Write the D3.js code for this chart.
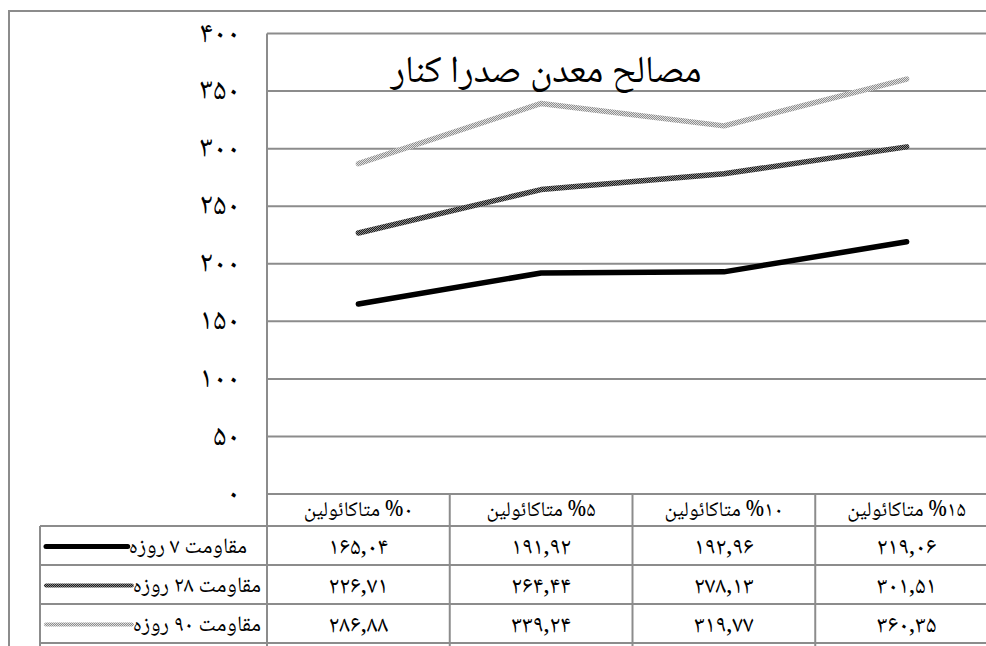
<!DOCTYPE html>
<html><head><meta charset="utf-8">
<script src="https://cdn.jsdelivr.net/npm/d3@7"></script>
<style>body{margin:0;background:#fff;overflow:hidden} svg{display:block}</style>
</head><body>
<svg id="c" width="986" height="646"></svg>
<script>
// ---- data ----
const chartTitle = "مصالح  معدن صدرا کنار";
const categoryWord = "متاکائولین";
const categoryPct = ["۰", "۵", "۱۰", "۱۵"];
const seriesNames = ["مقاومت ۷ روزه", "مقاومت ۲۸ روزه", "مقاومت ۹۰ روزه"];
const strength7 = [165.04, 191.92, 192.96, 219.06];
const strength28 = [226.71, 264.44, 278.13, 301.51];
const strength90 = [286.88, 339.24, 319.77, 360.35];
const yTicks = [0, 50, 100, 150, 200, 250, 300, 350, 400];

const series = [strength7, strength28, strength90];
const FONT = "'Noto Naskh Arabic','Noto Sans Arabic','DejaVu Sans',sans-serif";
const fa = s => String(s).replace(/[0-9]/g, d => "۰۱۲۳۴۵۶۷۸۹"[+d]);
const fmt = v => fa(v.toFixed(2).replace(".", ","));

const svg = d3.select("#c");
const defs = svg.append("defs");
function pat(id, a, b) {
  const p = defs.append("pattern").attr("id", id).attr("width", 2).attr("height", 2)
    .attr("patternUnits", "userSpaceOnUse");
  p.append("rect").attr("width", 2).attr("height", 2).attr("fill", a);
  p.append("rect").attr("width", 1).attr("height", 1).attr("fill", b);
  p.append("rect").attr("x", 1).attr("y", 1).attr("width", 1).attr("height", 1).attr("fill", b);
}
pat("p28", "#1e1e1e", "#8a8a8a");
pat("p90", "#8e8e8e", "#e0e0e0");
const strokes = ["#000", "url(#p28)", "url(#p90)"];

const GRID = "#8c8c8c";
const plotL = 267, plotR = 998, plotT = 33.5, plotB = 494;
const x = d3.scaleBand().domain(categoryPct).range([plotL, plotR]).padding(0);
const y = d3.scaleLinear().domain([0, 400]).range([plotB, plotT]);

// outer chart border
svg.append("rect").attr("x", 9).attr("y", 11).attr("width", 1000).attr("height", 700)
  .attr("fill", "none").attr("stroke", GRID).attr("stroke-width", 2);

// gridlines
svg.append("g").selectAll("line").data(yTicks).join("line")
  .attr("x1", plotL).attr("x2", plotR)
  .attr("y1", d => y(d)).attr("y2", d => y(d))
  .attr("stroke", GRID).attr("stroke-width", 2);

// y axis labels
const yAxis = d3.axisLeft(y).tickValues(yTicks).tickSize(0).tickPadding(0).tickFormat(d => fa(d));
const ga = svg.append("g").attr("transform", "translate(240,-2)").call(yAxis);
ga.select(".domain").remove();
ga.selectAll("text").attr("font-family", FONT).attr("font-size", 30).attr("fill", "#000");

// title
svg.append("text").attr("x", 546).attr("y", 82).attr("text-anchor", "middle")
  .attr("font-family", FONT).attr("font-size", 38).attr("fill", "#000").text(chartTitle);

// lines
const cx = c => x(c) + x.bandwidth() / 2;
const line = d3.line().x((d, i) => cx(categoryPct[i])).y(d => y(d));
svg.append("g").selectAll("path").data(series).join("path")
  .attr("d", line).attr("fill", "none")
  .attr("stroke", (d, i) => strokes[i]).attr("stroke-width", 5.5)
  .attr("stroke-linecap", "round").attr("stroke-linejoin", "round");

// data table
const rowTop = [494, 526, 565, 604, 643];
const tbl = svg.append("g");
rowTop.forEach((r, i) => {
  tbl.append("line").attr("x1", i === 0 ? plotL : 40).attr("x2", plotR)
    .attr("y1", r).attr("y2", r).attr("stroke", GRID).attr("stroke-width", 2);
});
const colEdges = categoryPct.map(c => x(c)).concat([plotR]);
colEdges.forEach(e => {
  tbl.append("line").attr("x1", e).attr("x2", e).attr("y1", e === plotL ? plotT : 494).attr("y2", 660)
    .attr("stroke", GRID).attr("stroke-width", 2);
});
tbl.append("line").attr("x1", 40).attr("x2", 40).attr("y1", 526).attr("y2", 660)
  .attr("stroke", GRID).attr("stroke-width", 2);

// header (visual: word, %, digits)
tbl.selectAll("text.h").data(categoryPct).join("text").attr("class", "h")
  .attr("x", d => cx(d)).attr("y", (rowTop[0] + rowTop[1]) / 2 + 6)
  .attr("text-anchor", "middle").attr("font-family", FONT).attr("font-size", 21)
  .text(d => categoryWord + "\u200E %" + d);

// values + legend keys
series.forEach((s, si) => {
  const yy = (rowTop[si + 1] + rowTop[si + 2]) / 2 + 7;
  tbl.append("g").selectAll("text").data(s).join("text")
    .attr("x", (d, i) => cx(categoryPct[i])).attr("y", yy + 1)
    .attr("text-anchor", "middle").attr("font-family", FONT).attr("font-size", 24)
    .text(d => fmt(d));
  const t = tbl.append("text").attr("x", si === 0 ? 247 : 261).attr("y", yy)
    .attr("text-anchor", "end").attr("font-family", FONT).attr("font-size", 22)
    .text(seriesNames[si]);
  const bb = t.node().getBBox();
  tbl.append("line").attr("x1", 46).attr("x2", bb.x - 1).attr("y1", yy - 6).attr("y2", yy - 6)
    .attr("stroke", strokes[si]).attr("stroke-width", si === 0 ? 5 : 4).attr("stroke-linecap", "round");
});
</script>
</body></html>
